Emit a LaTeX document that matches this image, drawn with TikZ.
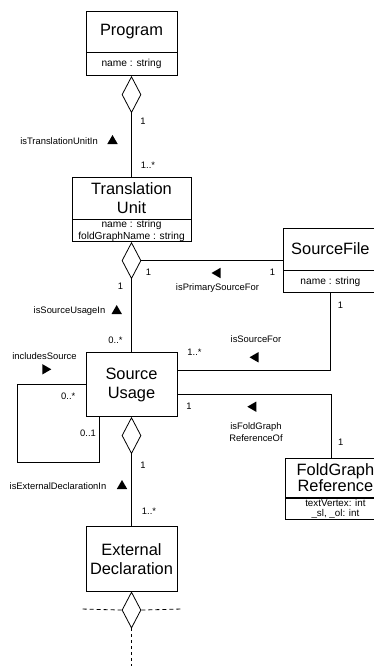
\documentclass[tikz,border=0pt]{standalone}
\usepackage{fontspec}
\setmainfont{Liberation Sans}
\usepackage{tikz}
\usetikzlibrary{shapes.geometric}

\tikzset{
  classbox/.style={rectangle, draw, line width=0.8pt, inner sep=0pt, align=center, font=\fontsize{16.4}{19}\selectfont},
  attrbox/.style={rectangle, draw, line width=0.8pt, inner sep=0pt, align=center, font=\fontsize{10.2}{12}\selectfont},
  aggr/.style={diamond, draw, fill=white, line width=0.8pt, inner sep=0pt, minimum width=19pt, minimum height=36pt, anchor=north},
  assoc/.style={line width=0.8pt},
  open/.style={line width=0.8pt, dash pattern=on 4pt off 3pt},
  lbl/.style={inner sep=0pt, align=center, font=\fontsize{9.4}{11.7}\selectfont},
  dirmark/.style={regular polygon, regular polygon sides=3, fill=black, inner sep=0pt, minimum size=12pt},
}

\begin{document}
\begin{tikzpicture}[x=1pt, y=-1pt]
      % Variables
      \def \midx {131.5}
      \useasboundingbox (0,0) rectangle (374,666);

      % Classes
      \node[classbox, minimum width=91pt, minimum height=41pt] (prog) at (\midx,31.5) {Program};
      \node[attrbox, minimum width=91pt, minimum height=23pt, anchor=north] (progattr) at (prog.south) {name : string};
      \node[aggr] (progagg) at (progattr.south) {};

      \node[classbox, minimum width=119pt, minimum height=42pt] (unit) at (\midx,198) {Translation\\Unit};
      \node[attrbox, minimum width=119pt, minimum height=22pt, anchor=north] (unitattr) at (unit.south) {name : string\\foldGraphName : string};
      \node[aggr] (unitagg) at (unitattr.south) {};

      \node[classbox, minimum width=94pt, minimum height=42pt, anchor=north west] (file) at (283,227.5) {SourceFile};
      \node[attrbox, minimum width=94pt, minimum height=22pt, anchor=north] (fileattr) at (file.south) {name : string};

      \node[classbox, minimum width=91pt, minimum height=64.5pt] (usage) at (\midx,384.5) {Source\\Usage};
      \node[aggr] (usageagg) at (usage.south) {};

      \node[classbox, minimum width=100pt, minimum height=39pt, anchor=north west, font=\fontsize{16.4}{15}\selectfont] (fold) at (285,458) {FoldGraph\\Reference};
      \node[attrbox, minimum width=100pt, minimum height=21pt, anchor=north, font=\fontsize{9.8}{9.5}\selectfont] (foldattr) at (fold.south) {textVertex: int\\\_sl, \_ol: int};

      \node[classbox, minimum width=91pt, minimum height=64.5pt] (extdecl) at (\midx,559) {External\\Declaration};
      \node[aggr] (extagg) at (extdecl.south) {};

      % Free ends
      \coordinate (openl) at (81,609);
      \coordinate (openr) at (182,609);
      \coordinate (opend) at (\midx,670);

      % Associations
      \draw[assoc] (progagg.south) -- (unit.north);
      \draw[assoc] (unitagg.south) -- (usage.north);
      \draw[assoc] (unitagg.east) -- (unitagg.east -| file.west);
      \draw[assoc] ([yshift=14.5pt]usage.east) -| (fileattr.south);
      \draw[assoc] ([yshift=-10pt]usage.east) -| ([xshift=-4pt]fold.north);
      \draw[assoc] (usage.west) -| (17,462) -| ([xshift=-32.5pt]usage.south);
      \draw[assoc] (usageagg.south) -- (extdecl.north);
      \draw[open] (extagg.west) -- (openl);
      \draw[open] (extagg.east) -- (openr);
      \draw[assoc, dash pattern=on 3pt off 3pt] (extagg.south) -- (opend);

      % Labels
      \node[lbl] (m1) at (143,121) {1};
      \node[lbl] (r1) at (59,141) {isTranslationUnitIn};
      \node[dirmark] (d1) at (112.5,141) {};
      \node[lbl] (m2) at (148,165) {1..*};

      \node[lbl] (m3) at (148.5,272.5) {1};
      \node[lbl] (m4) at (120.5,286.5) {1};
      \node[lbl] (r2) at (217.5,288) {isPrimarySourceFor};
      \node[dirmark, shape border rotate=90] (d2) at (217.5,273) {};
      \node[lbl] (m5) at (272.5,272.5) {1};

      \node[lbl] (m6) at (340.5,305) {1};
      \node[lbl] (r3) at (69.5,311) {isSourceUsageIn};
      \node[dirmark] (d3) at (116.7,311) {};
      \node[lbl] (m7) at (115.5,340.5) {0..*};

      \node[lbl] (r4) at (256,339) {isSourceFor};
      \node[dirmark, shape border rotate=90] (d4) at (255.5,357.3) {};
      \node[lbl] (m8) at (194.5,352) {1..*};

      \node[lbl] (r5) at (44.5,355.7) {includesSource};
      \node[dirmark, shape border rotate=-90] (d5) at (45.3,369.3) {};
      \node[lbl] (m9) at (68.3,396.7) {0..*};
      \node[lbl] (m10) at (88,433.3) {0..1};

      \node[lbl] (m11) at (189,406) {1};
      \node[dirmark, shape border rotate=90] (d6) at (253.3,406.7) {};
      \node[lbl] (r6) at (256,432) {isFoldGraph\\ReferenceOf};
      \node[lbl] (m12) at (340.7,442.7) {1};

      \node[lbl] (m13) at (143,465.7) {1};
      \node[lbl] (r7) at (58,486.5) {isExternalDeclarationIn};
      \node[dirmark] (d7) at (122,486) {};
      \node[lbl] (m14) at (149,511) {1..*};

\end{tikzpicture}
\end{document}
